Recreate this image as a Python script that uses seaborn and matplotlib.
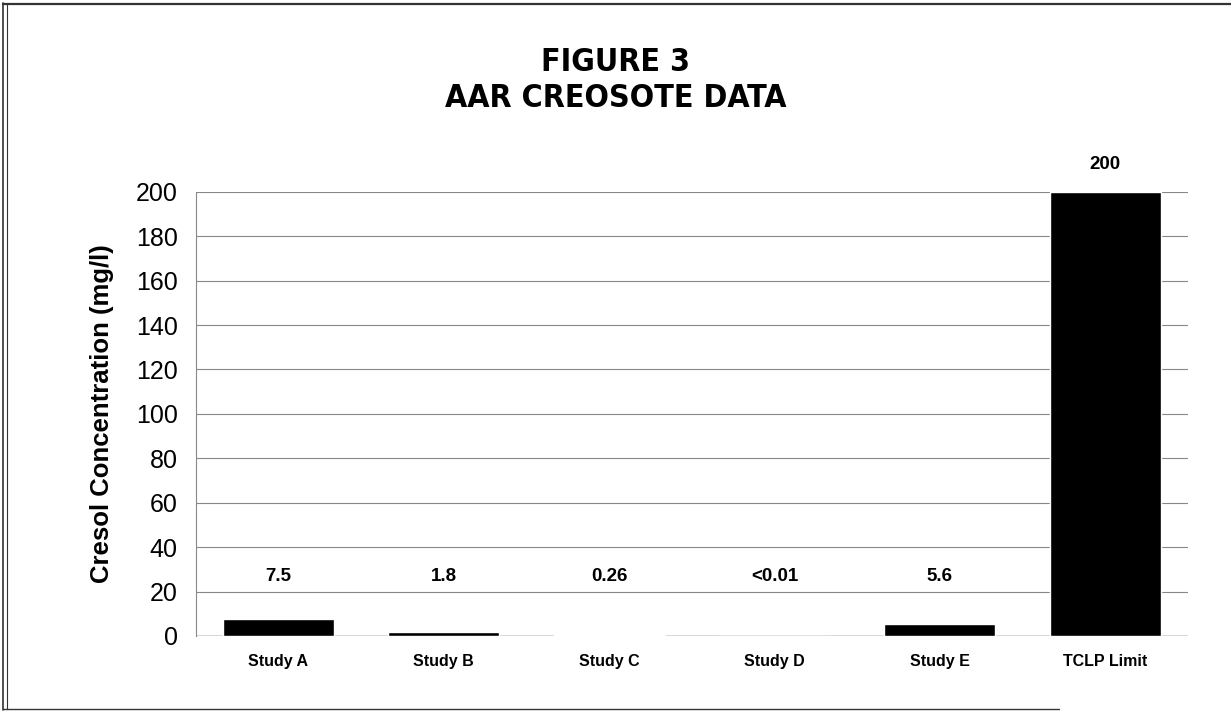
import matplotlib
matplotlib.use("Agg")
import matplotlib.pyplot as plt
import pandas as pd
import seaborn as sns
from matplotlib.lines import Line2D

# data
studies = ["Study A", "Study B", "Study C", "Study D", "Study E", "TCLP Limit"]
cresol = [7.5, 1.8, 0.26, 0.01, 5.6, 200]
value_labels = ["7.5", "1.8", "0.26", "<0.01", "5.6", "200"]
y_ticks = [0, 20, 40, 60, 80, 100, 120, 140, 160, 180, 200]

df = pd.DataFrame({"Study": studies, "Cresol": cresol})

sns.set_theme(style="white")
plt.rcParams["font.family"] = ["Liberation Sans", "DejaVu Sans"]
plt.rcParams["text.color"] = "black"
plt.rcParams["xtick.color"] = "black"
plt.rcParams["ytick.color"] = "black"
plt.rcParams["axes.labelcolor"] = "black"

fig = plt.figure(figsize=(12.31, 7.13), dpi=100)
ax = fig.add_axes([0.159, 0.108, 0.806, 0.623])

sns.barplot(data=df, x="Study", y="Cresol", color="black", width=0.67,
            saturation=1, ax=ax, zorder=3)

ax.set_ylim(0, 200)
ax.set_yticks(y_ticks)
ax.set_yticklabels([str(t) for t in y_ticks], fontsize=18)
ax.yaxis.grid(True, color="#888888", linewidth=0.8, zorder=0)
ax.xaxis.grid(False)
ax.tick_params(axis="y", length=0, pad=13)
ax.tick_params(axis="x", length=0, pad=13)
for lab in ax.get_xticklabels():
    lab.set_fontweight("bold")
    lab.set_fontsize(11.5)

for side in ["top", "right", "bottom"]:
    ax.spines[side].set_visible(False)
ax.spines["left"].set_color("#888888")
ax.spines["left"].set_linewidth(0.8)
ax.axhline(0, color="#555555", linewidth=1.0, zorder=2)

ax.set_xlabel("")
ax.set_ylabel("Cresol Concentration (mg/l)", fontsize=18.5, fontweight="bold",
              labelpad=16)

# value labels: small bars share one row, the limit sits above its bar
for i, (val, text) in enumerate(zip(cresol, value_labels)):
    ypos = 212.5 if val > 100 else 26.6
    ax.text(i, ypos, text, ha="center", va="center", fontsize=13.5,
            fontweight="bold", clip_on=False)

title_font = dict(ha="center", va="center", fontsize=23, fontweight="heavy",
                  fontstretch="condensed", family=["DejaVu Sans"])
fig.text(0.5, 0.912, "FIGURE 3", **title_font)
fig.text(0.5, 0.862, "AAR CREOSOTE DATA", **title_font)

# page frame: double line on the left, single lines top and bottom
frame = [
    ((0.0025, 0.0025), (0.004, 0.996), 1.2),
    ((0.0058, 0.0058), (0.006, 0.994), 0.8),
    ((0.0025, 1.0), (0.995, 0.995), 1.6),
    ((0.0025, 0.86), (0.006, 0.006), 1.0),
]
for xs, ys, lw in frame:
    fig.add_artist(Line2D(xs, ys, transform=fig.transFigure, color="#333333",
                          linewidth=lw))

fig.savefig("out.png", dpi=100)
